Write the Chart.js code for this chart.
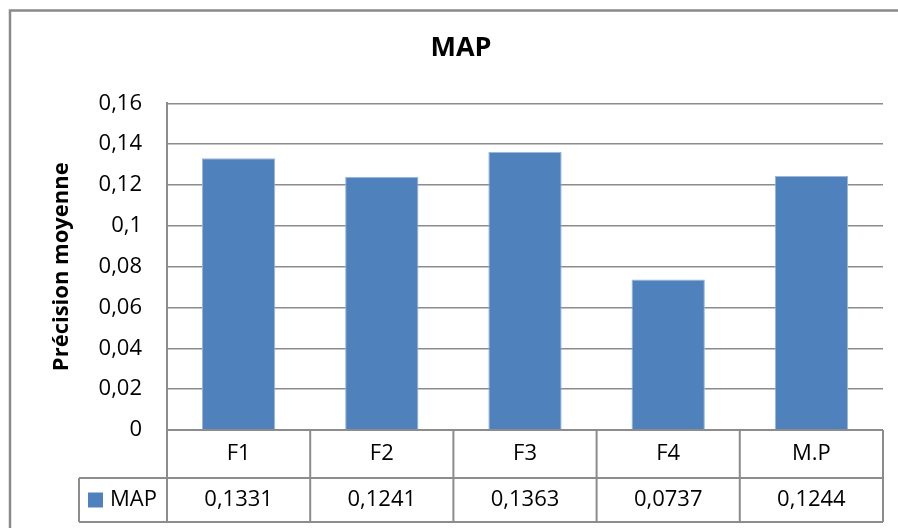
<!DOCTYPE html>
<html>
<head>
<meta charset="utf-8">
<script src="https://cdn.jsdelivr.net/npm/chart.js@4.4.1/dist/chart.umd.min.js"></script>
<style>
  html, body { margin: 0; padding: 0; overflow: hidden; background: #fff; }
  #wrap { position: relative; width: 922px; height: 528px; }
</style>
</head>
<body>
<div id="wrap"><canvas id="c" width="922" height="528"></canvas></div>
<script>
// Mean average precision per configuration
const categories = ['F1', 'F2', 'F3', 'F4', 'M.P'];
const mapValues = [0.1331, 0.1241, 0.1363, 0.0737, 0.1244];
const seriesName = 'MAP';
const yTickLabels = ['0', '0,02', '0,04', '0,06', '0,08', '0,1', '0,12', '0,14', '0,16'];

const FONT = '"Open Sans", "Noto Sans", sans-serif';
const BAR_COLOR = '#4F81BD';
const LINE_COLOR = '#8c8c8c';

const fmt = v => String(v).replace('.', ',');

// White page with the chart frame (left and top edges)
const framePlugin = {
  id: 'frame',
  beforeDraw(chart) {
    const { ctx, width, height } = chart;
    ctx.save();
    ctx.fillStyle = '#fff';
    ctx.fillRect(0, 0, width, height);
    ctx.strokeStyle = '#8a8a8a';
    ctx.lineWidth = 2.5;
    ctx.beginPath();
    ctx.moveTo(10, height);
    ctx.lineTo(10, 10.5);
    ctx.lineTo(width, 10.5);
    ctx.stroke();
    ctx.restore();
  }
};

// Data table under the plot: category row, value row and legend key
const tablePlugin = {
  id: 'dataTable',
  afterDraw(chart) {
    const { ctx, chartArea: a, scales: { x } } = chart;
    const data = chart.data.datasets[0].data;
    const labels = chart.data.labels;
    const n = labels.length;
    const colW = (a.right - a.left) / n;
    const top = a.bottom, mid = top + 48, bot = mid + 44;
    const legL = a.left - 88;
    ctx.save();
    ctx.strokeStyle = LINE_COLOR;
    ctx.lineWidth = 2;
    ctx.beginPath();
    ctx.moveTo(a.left, top); ctx.lineTo(a.right, top);
    ctx.moveTo(legL, mid); ctx.lineTo(a.right, mid);
    ctx.moveTo(legL, bot); ctx.lineTo(a.right, bot);
    ctx.moveTo(legL, mid); ctx.lineTo(legL, bot);
    for (let i = 0; i <= n; i++) {
      const xx = a.left + i * colW;
      ctx.moveTo(xx, top); ctx.lineTo(xx, bot);
    }
    ctx.stroke();

    ctx.fillStyle = '#000';
    ctx.font = '22px ' + FONT;
    ctx.textAlign = 'center';
    ctx.textBaseline = 'middle';
    labels.forEach((c, i) => {
      const cx = x.getPixelForValue(i);
      ctx.fillText(c, cx, (top + mid) / 2);
      ctx.fillText(fmt(data[i]), cx, (mid + bot) / 2);
    });

    const cy = (mid + bot) / 2;
    ctx.fillStyle = BAR_COLOR;
    ctx.fillRect(legL + 9, cy - 7.5, 15, 15);
    ctx.fillStyle = '#000';
    ctx.textAlign = 'left';
    ctx.fillText(chart.data.datasets[0].label, legL + 31, cy);
    ctx.restore();
  }
};

new Chart(document.getElementById('c'), {
  type: 'bar',
  data: {
    labels: categories,
    datasets: [{
      label: seriesName,
      data: mapValues,
      backgroundColor: BAR_COLOR,
      borderColor: '#9db6d8',
      borderWidth: 1,
      borderSkipped: 'bottom',
      barPercentage: 0.512,
      categoryPercentage: 1.0
    }]
  },
  options: {
    responsive: false,
    animation: false,
    layout: { padding: { left: 39, top: 0, right: 39, bottom: 98 } },
    plugins: {
      legend: { display: false },
      tooltip: { enabled: false },
      title: {
        display: true,
        text: 'MAP',
        color: '#000',
        font: { family: FONT, size: 27, weight: 'bold' },
        padding: { top: 32, bottom: 39 }
      }
    },
    scales: {
      x: { display: false },
      y: {
        min: 0,
        max: 0.16,
        ticks: {
          stepSize: 0.02,
          padding: 25,
          color: '#000',
          font: { family: FONT, size: 22 },
          callback: (v, i) => yTickLabels[i]
        },
        grid: { color: LINE_COLOR, lineWidth: 1.5, drawTicks: false },
        border: { display: true, color: LINE_COLOR, width: 2 },
        title: {
          display: true,
          text: 'Précision moyenne',
          color: '#000',
          font: { family: FONT, size: 22, weight: 'bold' },
          padding: { top: 10, bottom: 0 }
        },
        afterFit(scale) { scale.width = 128; }
      }
    }
  },
  plugins: [framePlugin, tablePlugin]
});
</script>
</body>
</html>
